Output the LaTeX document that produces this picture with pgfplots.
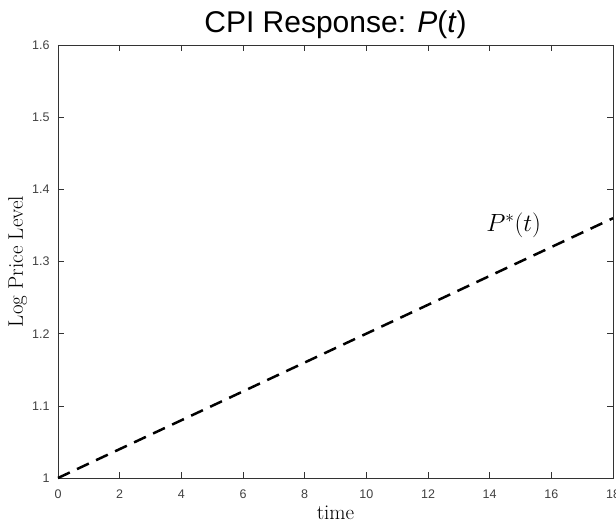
\documentclass[border=0pt]{standalone}
\usepackage{fontspec}
\usepackage{pgfplots}
\pgfplotsset{compat=1.18}
\newfontfamily\helv{Liberation Sans}
\begin{document}
\begin{tikzpicture}
\path[use as bounding box] (-58pt,-45pt) rectangle (558pt,478pt);
\begin{axis}[
  at={(0pt,0pt)}, anchor=south west,
  scale only axis, width=555pt, height=433pt,
  xmin=0, xmax=18, ymin=1, ymax=1.6,
  xtick={0,2,...,18}, ytick={1,1.1,...,1.6},
  yticklabels={1,1.1,1.2,1.3,1.4,1.5,1.6},
  xticklabels={0,2,4,6,8,10,12,14,16,18},
  tick align=inside, major tick length=6pt,
  axis line style={line width=0.8pt, black!80},
  every tick/.style={line width=0.6pt, black!80},
  ticklabel style={font=\helv\fontsize{12.5}{12.5}\selectfont, text=black!75},
  xticklabel style={yshift=-8pt},
  yticklabel style={xshift=-5pt},
  title={\helv\fontsize{30}{32}\selectfont CPI Response: \textit{P}(\textit{t})},
  title style={yshift=-3pt},
  xlabel={\fontsize{21}{22}\selectfont time},
  ylabel={\fontsize{21}{22}\selectfont Log Price Level},
  xlabel style={yshift=-1pt},
  ylabel style={yshift=-2pt},
  clip=false,
]
\addplot[black, line width=2.5pt, dash pattern=on 13pt off 8pt] coordinates {(0,1) (18,1.36)};
\node[font=\fontsize{25}{26}\selectfont] at (axis cs:14.78,1.35) {$P^{*}(t)$};
\end{axis}
\end{tikzpicture}
\end{document}
